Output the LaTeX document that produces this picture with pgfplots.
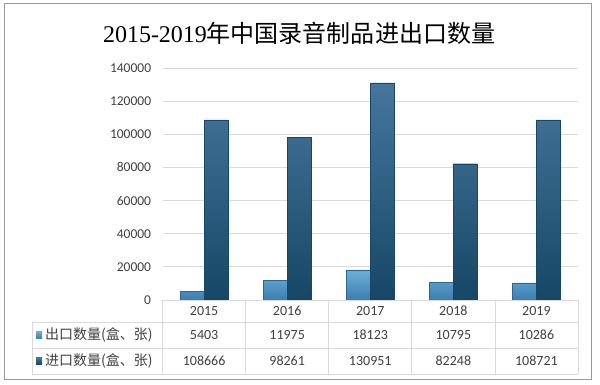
\documentclass[border=0pt]{standalone}
\usepackage{pgfplots}
\pgfplotsset{compat=1.18}
\usepackage{pgfplotstable}
\usepackage{fontspec}
\setmainfont{Carlito}
\newfontfamily\cjk{Noto Sans CJK SC}
\newfontfamily\titleserif{Liberation Serif}
\definecolor{gridc}{HTML}{D9D9D9}
\definecolor{txt}{HTML}{404040}
\definecolor{expT}{HTML}{6FADD8}
\definecolor{expB}{HTML}{3A7FB0}
\definecolor{impT}{HTML}{46769C}
\definecolor{impB}{HTML}{174766}
\pgfplotstableread{
idx year export import
0 2015 5403 108666
1 2016 11975 98261
2 2017 18123 130951
3 2018 10795 82248
4 2019 10286 108721
}\datatable
\begin{document}
\begin{tikzpicture}[x=1bp,y=1bp]
\useasboundingbox (0,0) rectangle (600,384);
\draw[color=black!40, line width=0.8bp] (4,5) rectangle (591,381);
\node[font=\fontsize{24bp}{28bp}\selectfont, text=black] at (299,351) {\titleserif 2015-2019\cjk 年中国录音制品进出口数量};
\begin{axis}[
  at={(162.6bp,84bp)}, anchor=south west,
  scale only axis, width=415.4bp, height=232bp,
  xmin=-0.5, xmax=4.5, ymin=0, ymax=140000,
  ytick={0,20000,...,140000},
  xtick=\empty,
  axis line style={draw=none},
  ymajorgrids, grid style={gridc, line width=0.8bp},
  major tick length=0pt,
  scaled y ticks=false,
  /pgf/number format/fixed,
  /pgf/number format/1000 sep={},
  /pgf/number format/assume math mode=true,
  yticklabel style={font=\fontsize{13.5bp}{16bp}\selectfont, text=txt, xshift=-8bp},
  clip=false,
]
\addplot[ybar, bar width=24bp, bar shift=-12bp, draw=expB!80!black, line width=0.4bp, top color=expT, bottom color=expB] table[x=idx, y=export] {\datatable};
\addplot[ybar, bar width=24bp, bar shift=12bp, draw=impB, line width=0.4bp, top color=impT, bottom color=impB] table[x=idx, y=import] {\datatable};
\end{axis}
% data table below the axis
\begin{scope}[gridc, line width=0.8bp]
\draw (162.6,84) -- (578,84);
\draw (32,62) -- (578,62);
\draw (32,36) -- (578,36);
\draw (32,10) -- (578,10);
\draw (32,62) -- (32,10);
\foreach \k in {0,...,5} {\draw ({162.6+\k*83.08},84) -- ({162.6+\k*83.08},10);}
\end{scope}
\foreach \k/\yr/\ex/\im in {0/2015/5403/108666, 1/2016/11975/98261, 2/2017/18123/130951, 3/2018/10795/82248, 4/2019/10286/108721} {
  \node[font=\fontsize{14bp}{16bp}\selectfont, text=txt] at ({204.1+\k*83.08},73) {\yr};
  \node[font=\fontsize{14bp}{16bp}\selectfont, text=txt] at ({204.1+\k*83.08},49) {\ex};
  \node[font=\fontsize{14bp}{16bp}\selectfont, text=txt] at ({204.1+\k*83.08},23) {\im};
}
\shade[top color=expT, bottom color=expB] (36,45.5) rectangle (42,52.5);
\shade[top color=impT, bottom color=impB] (36,19.5) rectangle (42,26.5);
\node[anchor=west, inner sep=0, font=\fontsize{14bp}{16bp}\selectfont\cjk, text=txt] at (45,49) {出口数量(盒、张)};
\node[anchor=west, inner sep=0, font=\fontsize{14bp}{16bp}\selectfont\cjk, text=txt] at (45,23) {进口数量(盒、张)};
\end{tikzpicture}
\end{document}
